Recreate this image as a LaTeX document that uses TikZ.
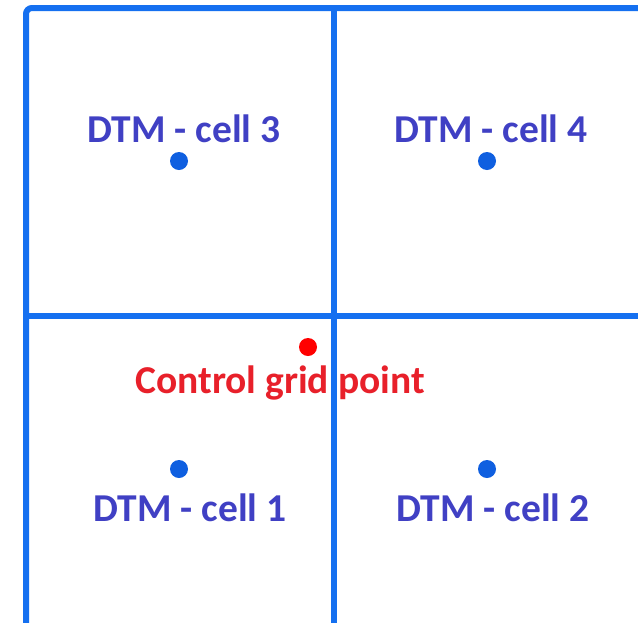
\documentclass[tikz,border=0pt]{standalone}
\usepackage{fontspec}
\setmainfont{Carlito}
\definecolor{gridblue}{HTML}{1570F0}
\definecolor{dotblue}{HTML}{0F5FE0}
\definecolor{lblue}{HTML}{4040C4}
\definecolor{lred}{HTML}{E8202A}
\begin{document}
\begin{tikzpicture}[x=1pt,y=-1pt,
  gridline/.style={draw=gridblue,line width=6pt},
  celldot/.style={circle,fill=dotblue,inner sep=0pt,minimum size=18pt},
  reddot/.style={circle,fill=red,inner sep=0pt,minimum size=18pt},
  celllabel/.style={font=\fontsize{39.5}{40}\selectfont\bfseries,text=lblue,anchor=base,inner sep=0pt},
  redlabel/.style={font=\fontsize{39.5}{40}\selectfont\bfseries,text=lred,anchor=base,inner sep=0pt}]
\useasboundingbox (0,0) rectangle (638,622);
\fill[white] (0,0) rectangle (638,622);
% grid
\draw[gridline,rounded corners=6pt] (26,630) -- (26,8) -- (645,8);
\draw[gridline] (334,8) -- (334,630);
\draw[gridline] (26,316) -- (645,316);
% cell centres
\node[celldot] (d3) at (179,161) {};
\node[celldot] (d4) at (487,161) {};
\node[celldot] (d1) at (179,469) {};
\node[celldot] (d2) at (487,469) {};
\node[reddot] (cp) at (308,347) {};
% labels
\node[celllabel] (l3) at (184,142) {DTM - cell 3};
\node[celllabel] (l4) at (491,142) {DTM - cell 4};
\node[celllabel] (l1) at (190,521) {DTM - cell 1};
\node[celllabel] (l2) at (493,521) {DTM - cell 2};
\node[redlabel] (lc) at (280,393) {Control grid point};
\end{tikzpicture}
\end{document}
